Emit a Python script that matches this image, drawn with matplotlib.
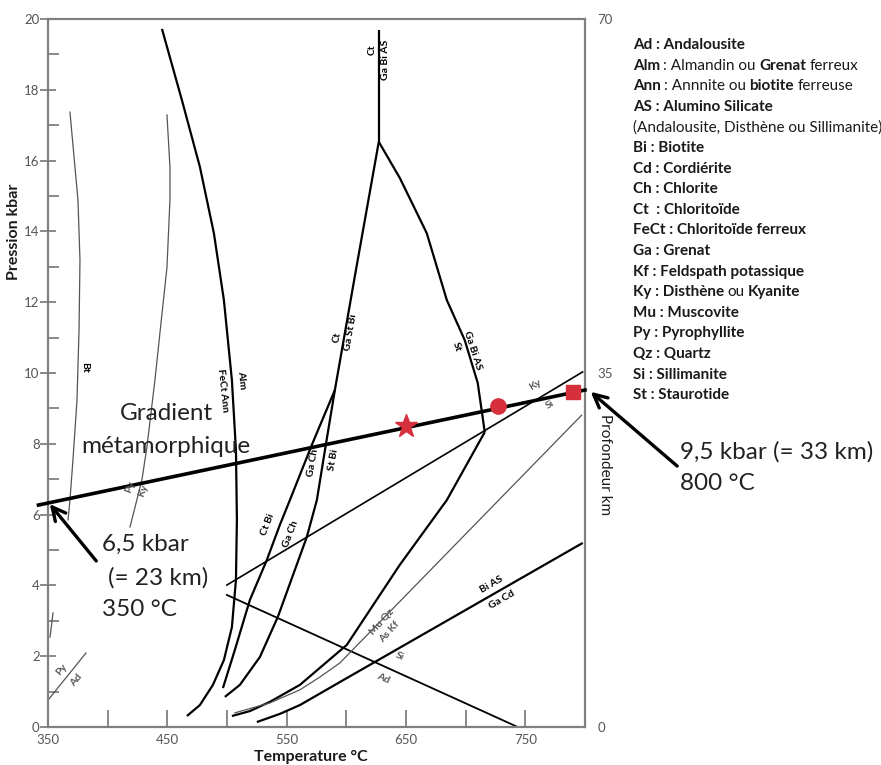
#!/usr/bin/env python3
"""plot.py — petrogenetic grid with a metamorphic gradient."""
import matplotlib
matplotlib.use('Agg')
import matplotlib.pyplot as plt

plt.rcParams['font.family'] = ['Lato', 'DejaVu Sans']

W, H = 881, 765
GRAY = '#555555'
RED = '#d7303d'

# --- reaction curves, T (°C) / P (kbar) ----------------------------------
ALM_T = [445.5, 462.2, 477.3, 489.0, 497.4, 504.1, 507.5, 508.3, 507.5, 504.1, 497.4, 488.2, 477.3, 466.4]
ALM_P = [19.72, 17.71, 15.82, 13.95, 12.06, 9.80, 7.82, 5.85, 4.15, 2.82, 1.89, 1.19, 0.62, 0.31]

CTBI_T = [496.6, 506.6, 519.2, 533.4, 544.3, 552.7, 571.1, 590.4]
CTBI_P = [1.10, 2.18, 3.59, 4.72, 5.71, 6.41, 7.97, 9.52]

GACH_T = [498.2, 510.8, 527.6, 542.6, 556.9, 566.9, 575.3, 582.8, 590.4]
GACH_P = [0.85, 1.19, 1.98, 3.11, 4.44, 5.37, 6.41, 7.97, 9.52]

CT_T = [590.4, 608.0, 627.2]
CT_P = [9.52, 12.9, 16.53]

CTTOP_T = [627.2, 627.2]
CTTOP_P = [16.53, 19.7]

ST_T = [627.2, 644.8, 667.4, 684.2, 699.2, 710.1, 716.0]
ST_P = [16.53, 15.51, 13.95, 12.06, 10.93, 9.72, 8.33]

STLOW_T = [716.0, 684.2, 644.8, 600.4, 577.8, 561.1, 535.9, 519.2, 504.1]
STLOW_P = [8.33, 6.41, 4.58, 2.32, 1.67, 1.19, 0.71, 0.45, 0.31]

MUQZ_T = [797.2, 594.6, 577.8, 561.1, 535.9, 506.6]
MUQZ_P = [8.81, 1.81, 1.41, 1.05, 0.68, 0.40]

BIAS_T = [798.1, 594.6, 561.1, 544.3, 525.0]
BIAS_P = [5.20, 1.27, 0.62, 0.37, 0.14]

KYSI_T = [499.9, 798.0]
KYSI_P = [4.01, 10.03]

SIAD_T = [499.9, 743.6]
SIAD_P = [3.73, 0.0]

BT_T = [368.4, 375.1, 376.8, 376.0, 374.3, 370.9, 368.4, 366.8]
BT_P = [17.37, 14.89, 13.19, 11.21, 9.24, 7.54, 6.41, 5.85]

PYKY_T = [449.7, 452.2, 452.2, 449.7, 443.8, 439.6, 432.9, 428.7, 418.7]
PYKY_P = [17.29, 15.82, 14.89, 12.99, 11.13, 9.80, 7.91, 6.98, 5.65]

PYAD_T = [350.0, 381.8]
PYAD_P = [0.76, 2.09]

STUB_T = [351.7, 354.2]
STUB_P = [2.54, 3.22]

# metamorphic gradient and the three points on it
GRAD_T = [342.0, 800.0]
GRAD_P = [6.27, 9.52]
PT_T = [650.0, 727.0, 790.0]
PT_P = [8.50, 9.07, 9.46]
PT_MARK = ['*', 'o', 's']
PT_SIZE = [17, 11, 10.5]

# reaction labels: text, T, P, rotation, colour
LABELS = [
    ('Ct', 621.4, 19.12, 90, 'k'), ('Ga Bi AS', 633.1, 18.84, 90, 'k'),
    ('Ct', 592.0, 11.02, 80, 'k'), ('Ga St Bi', 603.8, 11.16, 80, 'k'),
    ('Alm', 512.5, 9.80, -84, 'k'), ('FeCt Ann', 496.6, 9.52, -84, 'k'),
    ('Bt', 381.0, 10.17, -90, 'k'),
    ('Ct Bi', 534.2, 5.71, 69, 'k'), ('Ga Ch', 553.0, 5.45, 69, 'k'),
    ('Ga Ch', 572.0, 7.46, 80, 'k'), ('St Bi', 589.5, 7.54, 80, 'k'),
    ('Ga Bi AS', 706.0, 10.65, -72, 'k'), ('St', 692.5, 10.73, -72, 'k'),
    ('Ky', 757.9, 9.66, 31, GRAY), ('Si', 770.4, 9.10, 31, GRAY),
    ('Py', 418.7, 6.78, 70, GRAY), ('Ky', 429.6, 6.69, 70, GRAY),
    ('Mu Qz', 629.7, 2.97, 48, GRAY), ('As Kf', 636.4, 2.68, 48, GRAY),
    ('Bi AS', 721.9, 4.01, 30, 'k'), ('Ga Cd', 730.2, 3.59, 30, 'k'),
    ('Si', 644.8, 1.98, -24, GRAY), ('Ad', 630.6, 1.38, -24, GRAY),
    ('Py', 361.7, 1.61, 50, GRAY), ('Ad', 373.5, 1.33, 50, GRAY),
]

LEGEND = [
    [('Ad : Andalousite', 'bold')],
    [('Alm', 'bold'), (': Almandin ou', 'normal'), ('Grenat', 'bold'), ('ferreux', 'normal')],
    [('Ann', 'bold'), (': Annnite ou', 'normal'), ('biotite', 'bold'), ('ferreuse', 'normal')],
    [('AS : Alumino Silicate', 'bold')],
    [('(Andalousite, Disthène ou Sillimanite)', 'normal')],
    [('Bi : Biotite', 'bold')],
    [('Cd : Cordiérite', 'bold')],
    [('Ch : Chlorite', 'bold')],
    [('Ct  : Chloritoïde', 'bold')],
    [('FeCt : Chloritoïde ferreux', 'bold')],
    [('Ga : Grenat', 'bold')],
    [('Kf : Feldspath potassique', 'bold')],
    [('Ky : Disthène', 'bold'), ('ou', 'normal'), ('Kyanite', 'bold')],
    [('Mu : Muscovite', 'bold')],
    [('Py : Pyrophyllite', 'bold')],
    [('Qz : Quartz', 'bold')],
    [('Si : Sillimanite', 'bold')],
    [('St : Staurotide', 'bold')],
]


def fx(px): return px / W
def fy(py): return 1 - py / H


def draw_runs(fig, x, y, runs, size):
    r = fig.canvas.get_renderer()
    gap = 0.22 * size * fig.dpi / 72 / fig.bbox.width
    for text, weight in runs:
        t = fig.text(x, y, text, fontsize=size, weight=weight, color='#1a1a1a',
                     ha='left', va='center')
        x += t.get_window_extent(r).width / fig.bbox.width + gap


def main():
    fig = plt.figure(figsize=(W / 100, H / 100), dpi=100)
    ax = fig.add_axes([fx(48), 1 - 727 / H, (585 - 48) / W, (727 - 19) / H])
    ax.set_xlim(350, 800); ax.set_ylim(0, 20)

    thick = dict(color='k', lw=1.6, solid_capstyle='butt')
    thin = dict(color=GRAY, lw=0.9)
    for t, p in [(ALM_T, ALM_P), (CTBI_T, CTBI_P), (GACH_T, GACH_P), (CT_T, CT_P),
                 (CTTOP_T, CTTOP_P), (ST_T, ST_P), (STLOW_T, STLOW_P), (BIAS_T, BIAS_P)]:
        ax.plot(t, p, **thick)
    ax.plot(KYSI_T, KYSI_P, color='k', lw=1.2)
    ax.plot(SIAD_T, SIAD_P, color='k', lw=1.3)
    for t, p in [(MUQZ_T, MUQZ_P), (BT_T, BT_P), (PYKY_T, PYKY_P), (PYAD_T, PYAD_P), (STUB_T, STUB_P)]:
        ax.plot(t, p, **thin)

    for text, t, p, rot, c in LABELS:
        ax.text(t, p, text, rotation=rot, color=c, fontsize=7.5, weight='bold',
                ha='center', va='center', rotation_mode='anchor', zorder=6)

    # gradient
    ax.plot(GRAD_T, GRAD_P, color='k', lw=2.6, clip_on=False, zorder=4)
    for t, p, m, s in zip(PT_T, PT_P, PT_MARK, PT_SIZE):
        ax.plot(t, p, marker=m, ms=s, color=RED, mec=RED, ls='none', zorder=5)

    ax.annotate('', xy=(350, 6.36), xytext=(391.9, 4.63), annotation_clip=False,
                arrowprops=dict(arrowstyle='->', lw=2.4, color='k', mutation_scale=24))
    ax.annotate('', xy=(803, 9.52), xytext=(879, 7.32), annotation_clip=False,
                arrowprops=dict(arrowstyle='->', lw=2.4, color='k', mutation_scale=24))

    big = dict(fontsize=17.5, color='#222222', ha='left', va='center')
    fig.text(fx(166), fy(413), 'Gradient', ha='center', va='center', fontsize=17.5, color='#222222')
    fig.text(fx(166), fy(446), 'métamorphique', ha='center', va='center', fontsize=17.5, color='#222222')
    fig.text(fx(102), fy(544), '6,5 kbar', **big)
    fig.text(fx(108), fy(578), '(= 23 km)', **big)
    fig.text(fx(102), fy(609), '350 °C', **big)
    fig.text(fx(680), fy(452), '9,5 kbar (= 33 km)', **big)
    fig.text(fx(680), fy(484), '800 °C', **big)

    # axes cosmetics
    for sp in ax.spines.values():
        sp.set_color('#808080'); sp.set_linewidth(1.6)
    ax.set_xticks(range(350, 751, 100))
    ax.set_xticks(range(400, 751, 100), minor=True)
    ax.set_yticks(range(0, 21, 2))
    ax.set_yticks(range(1, 20, 2), minor=True)
    ax.tick_params(axis='x', which='both', direction='in', length=12, width=1.3,
                   color='#808080', labelcolor=GRAY, labelsize=9.5, pad=5)
    ax.tick_params(axis='y', which='major', direction='inout', length=12, width=1.3,
                   color='#808080', labelcolor=GRAY, labelsize=9.5, pad=0)
    ax.tick_params(axis='y', which='minor', direction='in', length=8, width=1.3, color='#808080')

    ax2 = ax.twinx()
    ax2.set_ylim(0, 70); ax2.set_yticks([0, 35, 70])
    ax2.tick_params(length=0, labelcolor=GRAY, labelsize=9.5, pad=9)
    for sp in ax2.spines.values(): sp.set_visible(False)

    fig.text(fx(14), fy(232), 'Pression kbar', rotation=90, weight='bold',
             fontsize=11.5, ha='center', va='center', color='#1a1a1a')
    fig.text(fx(311), fy(757), 'Temperature °C', weight='bold',
             fontsize=11.5, ha='center', va='center', color='#1a1a1a')
    fig.text(fx(605), fy(465), 'Profondeur km', rotation=270,
             fontsize=11, ha='center', va='center', color='#1a1a1a')

    for i, runs in enumerate(LEGEND):
        draw_runs(fig, fx(633), fy(45 + i * 20.6), runs, 11)

    fig.savefig('out.png', dpi=100)
    plt.close(fig)


if __name__ == '__main__':
    main()
